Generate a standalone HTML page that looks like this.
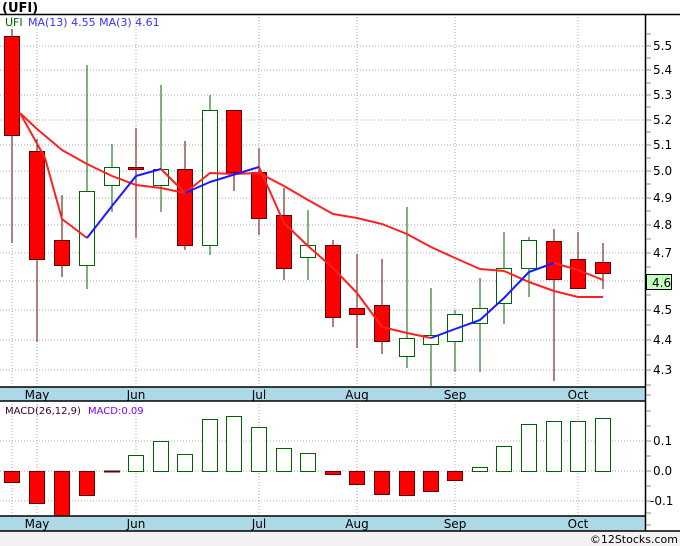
<!DOCTYPE html>
<html><head><meta charset="utf-8"><style>
html,body{margin:0;padding:0;background:#fff;width:680px;height:546px;overflow:hidden}
svg{display:block;font-family:"DejaVu Sans","Liberation Sans",sans-serif}
</style></head><body>
<svg width="680" height="546" viewBox="0 0 680 546" xmlns="http://www.w3.org/2000/svg">
<rect x="0" y="0" width="680" height="546" fill="#fff"/>
<rect x="0" y="531" width="680" height="15" fill="#f2f2f2"/>
<text x="2" y="12" font-size="13" font-weight="bold" fill="#000">(UFI)</text>
<text x="678" y="543" font-size="11" fill="#000" text-anchor="end">©12Stocks.com</text>
<g stroke="#aaa" stroke-dasharray="1,2" stroke-width="1">
<line x1="0" x2="645" y1="46" y2="46"/><line x1="0" x2="645" y1="70" y2="70"/><line x1="0" x2="645" y1="95" y2="95"/><line x1="0" x2="645" y1="120" y2="120"/><line x1="0" x2="645" y1="145" y2="145"/><line x1="0" x2="645" y1="171" y2="171"/><line x1="0" x2="645" y1="198" y2="198"/><line x1="0" x2="645" y1="225" y2="225"/><line x1="0" x2="645" y1="253" y2="253"/><line x1="0" x2="645" y1="281" y2="281"/><line x1="0" x2="645" y1="310" y2="310"/><line x1="0" x2="645" y1="340" y2="340"/><line x1="0" x2="645" y1="370" y2="370"/>
<line x1="0" x2="645" y1="441" y2="441"/><line x1="0" x2="645" y1="471" y2="471"/><line x1="0" x2="645" y1="501" y2="501"/>
<line x1="12" x2="12" y1="14" y2="531"/><line x1="37" x2="37" y1="14" y2="531"/><line x1="136" x2="136" y1="14" y2="531"/><line x1="259" x2="259" y1="14" y2="531"/><line x1="357" x2="357" y1="14" y2="531"/><line x1="455" x2="455" y1="14" y2="531"/><line x1="578" x2="578" y1="14" y2="531"/>
</g>
<rect x="0" y="387" width="645" height="14" fill="#add8e6"/>
<rect x="0" y="516" width="645" height="15" fill="#add8e6"/>
<g font-size="12" fill="#000" text-anchor="middle">
<text x="37" y="399">May</text><text x="136" y="399">Jun</text><text x="259" y="399">Jul</text><text x="357" y="399">Aug</text><text x="455" y="399">Sep</text><text x="578" y="399">Oct</text>
<text x="37" y="528">May</text><text x="136" y="528">Jun</text><text x="259" y="528">Jul</text><text x="357" y="528">Aug</text><text x="455" y="528">Sep</text><text x="578" y="528">Oct</text>
</g>
<g stroke="#000" stroke-width="1.5" fill="none">
<line x1="0" x2="680" y1="14.5" y2="14.5"/>
<line x1="0" x2="645" y1="387" y2="387"/>
<line x1="0" x2="645" y1="401" y2="401"/>
<line x1="0" x2="645" y1="516" y2="516"/>
<line x1="0" x2="680" y1="531" y2="531"/>
<line x1="645.5" x2="645.5" y1="14" y2="531"/>
</g>
<g stroke="#888" stroke-width="1">
<line x1="646" x2="651" y1="34" y2="34"/><line x1="646" x2="651" y1="46" y2="46"/><line x1="646" x2="651" y1="58" y2="58"/><line x1="646" x2="651" y1="70" y2="70"/><line x1="646" x2="651" y1="83" y2="83"/><line x1="646" x2="651" y1="95" y2="95"/><line x1="646" x2="651" y1="107" y2="107"/><line x1="646" x2="651" y1="120" y2="120"/><line x1="646" x2="651" y1="132" y2="132"/><line x1="646" x2="651" y1="145" y2="145"/><line x1="646" x2="651" y1="158" y2="158"/><line x1="646" x2="651" y1="171" y2="171"/><line x1="646" x2="651" y1="184" y2="184"/><line x1="646" x2="651" y1="198" y2="198"/><line x1="646" x2="651" y1="211" y2="211"/><line x1="646" x2="651" y1="225" y2="225"/><line x1="646" x2="651" y1="239" y2="239"/><line x1="646" x2="651" y1="253" y2="253"/><line x1="646" x2="651" y1="267" y2="267"/><line x1="646" x2="651" y1="281" y2="281"/><line x1="646" x2="651" y1="295" y2="295"/><line x1="646" x2="651" y1="310" y2="310"/><line x1="646" x2="651" y1="325" y2="325"/><line x1="646" x2="651" y1="340" y2="340"/><line x1="646" x2="651" y1="355" y2="355"/><line x1="646" x2="651" y1="370" y2="370"/><line x1="646" x2="651" y1="385" y2="385"/><line x1="646" x2="651" y1="395" y2="395"/>
<line x1="646" x2="651" y1="411" y2="411"/><line x1="646" x2="651" y1="426" y2="426"/><line x1="646" x2="651" y1="441" y2="441"/><line x1="646" x2="651" y1="456" y2="456"/><line x1="646" x2="651" y1="471" y2="471"/><line x1="646" x2="651" y1="486" y2="486"/><line x1="646" x2="651" y1="501" y2="501"/><line x1="646" x2="651" y1="513" y2="513"/><line x1="646" x2="651" y1="525" y2="525"/>
</g>
<g font-size="12" fill="#000">
<text x="653" y="50">5.5</text><text x="653" y="74">5.4</text><text x="653" y="99">5.3</text><text x="653" y="124">5.2</text><text x="653" y="149">5.1</text><text x="653" y="175">5.0</text><text x="653" y="202">4.9</text><text x="653" y="229">4.8</text><text x="653" y="257">4.7</text><text x="653" y="314">4.5</text><text x="653" y="344">4.4</text><text x="653" y="374">4.3</text>
<text x="653" y="445">0.1</text><text x="653" y="475">0.0</text><text x="650" y="505">-0.1</text>
</g>
<rect x="646.5" y="274.5" width="25" height="15" fill="#c0ffc0" stroke="#000"/>
<text x="652" y="287" font-size="12" fill="#000">4.6</text>
<text x="5" y="26" font-size="11" fill="#006400">UFI</text>
<text x="28" y="26" font-size="11" fill="#3333ff">MA(13)  4.55  MA(3)  4.61</text>
<text x="5" y="414" font-size="10" fill="#330033">MACD(26,12,9)</text>
<text x="88" y="414" font-size="10" fill="#8000ff">MACD:0.09</text>
<g stroke="#660000" stroke-width="1">
<line x1="12" x2="12" y1="29" y2="243"/><line x1="37" x2="37" y1="139" y2="342"/><line x1="62" x2="62" y1="195" y2="277"/><line x1="136" x2="136" y1="128" y2="238"/><line x1="185" x2="185" y1="141" y2="250"/><line x1="234" x2="234" y1="110" y2="191"/><line x1="259" x2="259" y1="148" y2="235"/><line x1="284" x2="284" y1="188" y2="280"/><line x1="333" x2="333" y1="240" y2="327"/><line x1="357" x2="357" y1="254" y2="348"/><line x1="382" x2="382" y1="259" y2="354"/><line x1="554" x2="554" y1="229" y2="381"/><line x1="578" x2="578" y1="232" y2="289"/><line x1="603" x2="603" y1="243" y2="289"/>
</g>
<g stroke="#006400" stroke-width="1">
<line x1="87" x2="87" y1="65" y2="289"/><line x1="112" x2="112" y1="144" y2="212"/><line x1="161" x2="161" y1="85" y2="212"/><line x1="210" x2="210" y1="95" y2="255"/><line x1="308" x2="308" y1="210" y2="280"/><line x1="407" x2="407" y1="207" y2="368"/><line x1="431" x2="431" y1="288" y2="387"/><line x1="455" x2="455" y1="310" y2="372"/><line x1="480" x2="480" y1="278" y2="372"/><line x1="504" x2="504" y1="232" y2="324"/><line x1="529" x2="529" y1="237" y2="297"/>
</g>
<g fill="#ff0000" stroke="#660000" stroke-width="1">
<rect x="4.5" y="36.5" width="15" height="99"/><rect x="29.5" y="151.5" width="15" height="108"/><rect x="54.5" y="240.5" width="15" height="25"/><rect x="128.5" y="167.5" width="15" height="2"/><rect x="177.5" y="169.5" width="15" height="76"/><rect x="226.5" y="110.5" width="15" height="62"/><rect x="251.5" y="172.5" width="15" height="46"/><rect x="276.5" y="215.5" width="15" height="53"/><rect x="325.5" y="245.5" width="15" height="72"/><rect x="349.5" y="308.5" width="15" height="6"/><rect x="374.5" y="305.5" width="15" height="36"/><rect x="546.5" y="241.5" width="15" height="38"/><rect x="570.5" y="259.5" width="15" height="29"/><rect x="595.5" y="262.5" width="15" height="11"/>
</g>
<g fill="#fff" stroke="#006400" stroke-width="1">
<rect x="79.5" y="191.5" width="15" height="74"/><rect x="104.5" y="167.5" width="15" height="18"/><rect x="153.5" y="169.5" width="15" height="16"/><rect x="202.5" y="110.5" width="15" height="135"/><rect x="300.5" y="245.5" width="15" height="12"/><rect x="399.5" y="338.5" width="15" height="18"/><rect x="423.5" y="335.5" width="15" height="9"/><rect x="447.5" y="314.5" width="15" height="27"/><rect x="472.5" y="308.5" width="15" height="15"/><rect x="496.5" y="268.5" width="15" height="35"/><rect x="521.5" y="240.5" width="15" height="28"/>
</g>
<g fill="none" stroke-width="2" stroke-linejoin="round">
<polyline stroke="#ff2020" points="20,113 37,129 62,150 87,164 112,176 136,185 161,188 185,193 210,173 234,174 259,173 284,186 308,200 333,214 357,218 382,224 407,234 431,247 455,258 480,269 504,271 529,282 554,291 578,297 603,297"/>
<polyline stroke="#ff2020" points="20,113 45,158 62,219 87,238"/>
<polyline stroke="#1a1aff" points="87,238 112,206 136,176 161,169"/>
<polyline stroke="#ff2020" points="161,169 185,193"/>
<polyline stroke="#1a1aff" points="185,193 210,182 259,167"/>
<polyline stroke="#ff2020" points="259,167 284,223 308,246 333,268 357,293 382,327 407,333 431,338"/>
<polyline stroke="#1a1aff" points="431,338 455,329 480,320 504,298 529,272 554,263"/>
<polyline stroke="#ff2020" points="554,263 578,270 603,280"/>
</g>
<g fill="#ff0000" stroke="#660000" stroke-width="1">
<rect x="4.5" y="471.5" width="15" height="11"/><rect x="29.5" y="471.5" width="15" height="32"/><rect x="54.5" y="471.5" width="15" height="44"/><rect x="79.5" y="471.5" width="15" height="24"/><rect x="104.5" y="471" width="15" height="1"/><rect x="325.5" y="471.5" width="15" height="3"/><rect x="349.5" y="471.5" width="15" height="13"/><rect x="374.5" y="471.5" width="15" height="23"/><rect x="399.5" y="471.5" width="15" height="24"/><rect x="423.5" y="471.5" width="15" height="20"/><rect x="447.5" y="471.5" width="15" height="9"/>
</g>
<g fill="#fff" stroke="#006400" stroke-width="1">
<rect x="128.5" y="455.5" width="15" height="16"/><rect x="153.5" y="441.5" width="15" height="30"/><rect x="177.5" y="454.5" width="15" height="17"/><rect x="202.5" y="419.5" width="15" height="52"/><rect x="226.5" y="416.5" width="15" height="55"/><rect x="251.5" y="427.5" width="15" height="44"/><rect x="276.5" y="448.5" width="15" height="23"/><rect x="300.5" y="453.5" width="15" height="18"/><rect x="472.5" y="467.5" width="15" height="4"/><rect x="496.5" y="446.5" width="15" height="25"/><rect x="521.5" y="424.5" width="15" height="47"/><rect x="546.5" y="421.5" width="15" height="50"/><rect x="570.5" y="421.5" width="15" height="50"/><rect x="595.5" y="418.5" width="15" height="53"/>
</g>
</svg>
</body></html>
